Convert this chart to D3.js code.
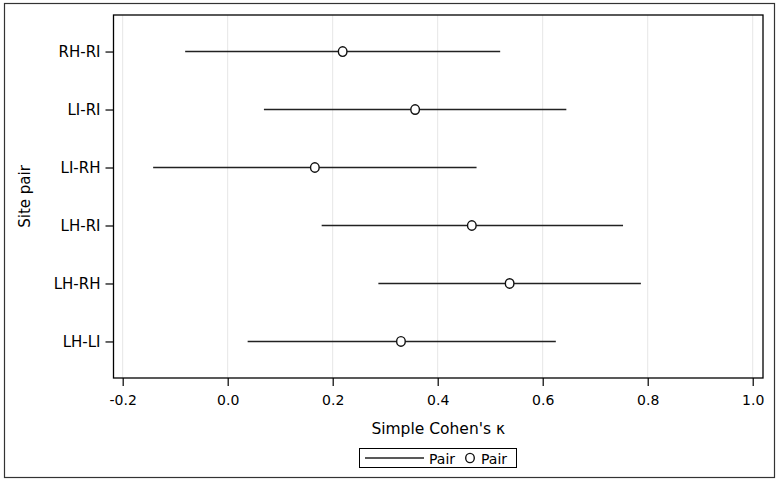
<!DOCTYPE html>
<html>
<head>
<meta charset="utf-8">
<script src="https://cdn.jsdelivr.net/npm/d3@7"></script>
<style>
  body { margin: 0; background: #fff; }
  text { font-family: "DejaVu Sans", sans-serif; fill: #000; }
</style>
</head>
<body>
<svg width="780" height="484"></svg>
<script>
const svg = d3.select("svg");

// site pairs, top to bottom
const pairs = ["RH-RI", "LI-RI", "LI-RH", "LH-RI", "LH-RH", "LH-LI"];
const kappa = [0.219, 0.357, 0.166, 0.465, 0.537, 0.330];
const lower = [-0.081, 0.069, -0.142, 0.179, 0.287, 0.038];
const upper = [0.519, 0.645, 0.474, 0.753, 0.787, 0.625];
const xTicks = [-0.2, 0.0, 0.2, 0.4, 0.6, 0.8, 1.0];

const rows = pairs.map((p, i) => ({pair: p, k: kappa[i], lo: lower[i], hi: upper[i]}));

const plotL = 113.5, plotR = 763, plotT = 15, plotB = 378;

const x = d3.scaleLinear()
    .domain([-0.2175, 1.0196])
    .range([plotL, plotR]);

const y = d3.scalePoint()
    .domain(pairs)
    .range([plotT, plotB])
    .padding(0.63);

// outer border
svg.append("rect")
    .attr("x", 4.5).attr("y", 3.5)
    .attr("width", 770).attr("height", 474)
    .attr("fill", "none")
    .attr("stroke", "#333")
    .attr("stroke-width", 1.2);

// grid
svg.append("g")
    .selectAll("line")
    .data(xTicks)
    .enter().append("line")
        .attr("x1", d => x(d)).attr("x2", d => x(d))
        .attr("y1", plotT).attr("y2", plotB)
        .attr("stroke", "#e6e6e6")
        .attr("stroke-width", 1);

// x axis (hyphen instead of unicode minus, like the original)
const fmt = d => d3.format(".1f")(d).replace("\u2212", "-");
const xAxis = svg.append("g")
    .attr("transform", `translate(0,${plotB})`)
    .call(d3.axisBottom(x).tickValues(xTicks).tickFormat(fmt).tickSize(8).tickSizeOuter(0));
xAxis.select(".domain").remove();
xAxis.selectAll("line").attr("stroke", "#000").attr("stroke-width", 1.2);
xAxis.selectAll("text")
    .attr("y", 17)
    .attr("font-size", 14)
    .attr("font-family", "DejaVu Sans");

// y axis
const yAxis = svg.append("g")
    .attr("transform", `translate(${plotL},0)`)
    .call(d3.axisLeft(y).tickSize(8).tickSizeOuter(0));
yAxis.select(".domain").remove();
yAxis.selectAll("line").attr("stroke", "#000").attr("stroke-width", 1.2);
yAxis.selectAll("text")
    .attr("x", -13)
    .attr("font-size", 15)
    .attr("font-family", "DejaVu Sans");

// CI lines
svg.append("g")
    .selectAll("line")
    .data(rows)
    .enter().append("line")
        .attr("x1", d => x(d.lo)).attr("x2", d => x(d.hi))
        .attr("y1", d => y(d.pair)).attr("y2", d => y(d.pair))
        .attr("stroke", "#222")
        .attr("stroke-width", 1.5);

// point estimates
svg.append("g")
    .selectAll("ellipse")
    .data(rows)
    .enter().append("ellipse")
        .attr("cx", d => x(d.k))
        .attr("cy", d => y(d.pair))
        .attr("rx", 4.3).attr("ry", 4.8)
        .attr("fill", "#fff")
        .attr("stroke", "#111")
        .attr("stroke-width", 1.4);

// plot frame
svg.append("rect")
    .attr("x", plotL).attr("y", plotT)
    .attr("width", plotR - plotL).attr("height", plotB - plotT)
    .attr("fill", "none")
    .attr("stroke", "#000")
    .attr("stroke-width", 1.3);

// axis titles
svg.append("text")
    .attr("x", (plotL + plotR) / 2)
    .attr("y", 434)
    .attr("text-anchor", "middle")
    .attr("font-size", 15.5)
    .text("Simple Cohen's κ");

svg.append("text")
    .attr("transform", `translate(30,${(plotT + plotB) / 2}) rotate(-90)`)
    .attr("text-anchor", "middle")
    .attr("font-size", 15)
    .text("Site pair");

// legend
const leg = svg.append("g");
leg.append("rect")
    .attr("x", 359.5).attr("y", 448.5)
    .attr("width", 157).attr("height", 19)
    .attr("fill", "#fff")
    .attr("stroke", "#000")
    .attr("stroke-width", 1);
leg.append("line")
    .attr("x1", 365).attr("x2", 424)
    .attr("y1", 458).attr("y2", 458)
    .attr("stroke", "#222").attr("stroke-width", 1.5);
leg.append("text")
    .attr("x", 429).attr("y", 463.5)
    .attr("font-size", 14)
    .text("Pair");
leg.append("ellipse")
    .attr("cx", 470).attr("cy", 458)
    .attr("rx", 4.3).attr("ry", 4.6)
    .attr("fill", "#fff")
    .attr("stroke", "#111").attr("stroke-width", 1.4);
leg.append("text")
    .attr("x", 481).attr("y", 463.5)
    .attr("font-size", 14)
    .text("Pair");
</script>
</body>
</html>
